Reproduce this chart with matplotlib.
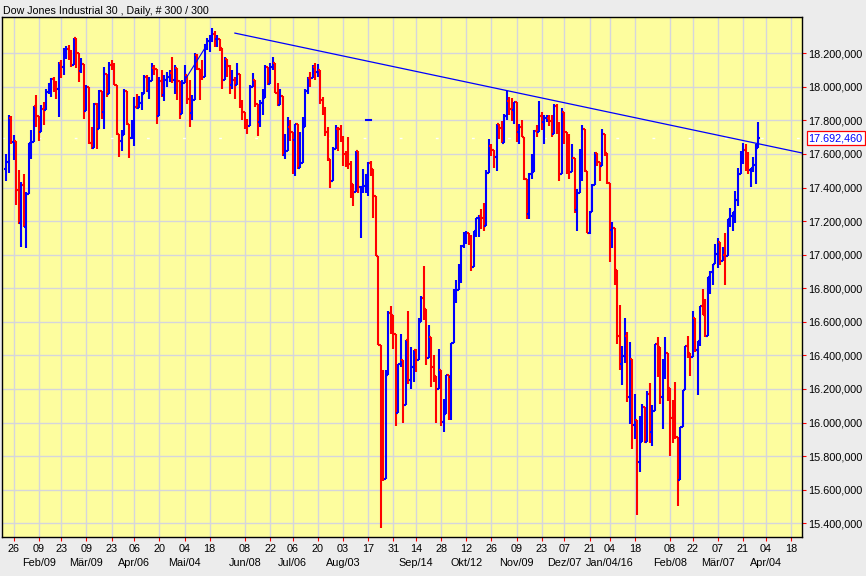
import numpy as np
import pandas as pd
import matplotlib
matplotlib.use("Agg")
import matplotlib.pyplot as plt
from matplotlib.collections import LineCollection
from matplotlib.transforms import blended_transform_factory

# NYSE-Feiertage im dargestellten Zeitraum
HOLIDAYS = [
    "2015-02-16", "2015-04-03", "2015-05-25", "2015-07-03", "2015-09-07",
    "2015-11-26", "2015-12-25", "2016-01-01", "2016-01-18", "2016-02-15",
    "2016-03-25",
]
FIRST_DAY = "2015-01-21"
LAST_DAY = "2016-03-30"

# Tageskurse (Open, High, Low, Close), je Monat eine Zeile
OPEN = [
    17511, 17554, 17814, 17673, 17679, 17387, 17191, 17417,
    17165, 17361, 17666, 17673, 17885, 17824, 17729, 17869, 17862, 17972, 18019, 18048, 18030, 17986, 18140, 18117, 18209, 18225, 18214,
    18133, 18289, 18203, 18097, 18136, 17857, 17996, 17663, 17635, 17895, 17749, 17977, 17849, 18076, 17959, 18128, 18116, 18011, 17719, 17678, 17713, 17976,
    17776, 17698, 17763, 17881, 17875, 17903, 17959, 18058, 17977, 18037, 18113, 18106, 17826, 18035, 17950, 18038, 18059, 18080, 18038, 18110, 18036,
    17841, 18024, 18070, 17928, 17842, 17924, 18191, 18105, 18068, 18060, 18252, 18273, 18299, 18312, 18285, 18286, 18232, 18042, 18163, 18126,
    18011, 18040, 18012, 18076, 17906, 17849, 17767, 17764, 18000, 18039, 17899, 17791, 17904, 17936, 18116, 18016, 18120, 18144, 17966, 17890, 17947, 17596,
    17620, 17758, 17730, 17684, 17777, 17515, 17549, 17760, 17978, 18054, 18050, 18120, 18086, 18100, 17919, 17851, 17732, 17569, 17441, 17630, 17751, 17746,
    17690, 17598, 17551, 17540, 17420, 17373, 17615, 17403, 17403, 17408, 17477, 17545, 17511, 17349, 16991, 16460, 15871, 15666, 16286, 16655, 16643,
    16528, 16058, 16351, 16375, 16102, 16493, 16254, 16330, 16433, 16371, 16600, 16740, 16675, 16385, 16510, 16330, 16280, 16201, 16315, 16002, 16049,
    16285, 16272, 16472, 16776, 16790, 16912, 17051, 17084, 17132, 17082, 16925, 17142, 17216, 17231, 17217, 17169, 17489, 17647, 17623, 17581, 17780, 17756,
    17664, 17829, 17918, 17868, 17863, 17910, 17730, 17758, 17702, 17448, 17245, 17483, 17490, 17737, 17733, 17824, 17793, 17812, 17813, 17798,
    17720, 17888, 17730, 17478, 17848, 17731, 17568, 17492, 17575, 17265, 17369, 17525, 17749, 17496, 17129, 17252, 17417, 17603, 17552, 17528, 17721, 17604,
    17425, 17149, 17159, 16907, 16514, 16346, 16399, 16516, 16151, 16379, 15988, 16016, 15767, 15883, 16094, 15885, 16167, 15944, 16070,
    16466, 16449, 16154, 16337, 16417, 16205, 16027, 16014, 15915, 15660, 15974, 16196, 16454, 16413, 16392, 16621, 16432, 16485, 16697, 16640,
    16517, 16865, 16899, 16944, 17007, 17074, 16964, 17000, 16995, 17213, 17229, 17252, 17326, 17481, 17602, 17624, 17583, 17503, 17516, 17535, 17633,
]
HIGH = [
    17600, 17830, 17828, 17715, 17679, 17506, 17434, 17480,
    17375, 17667, 17740, 17885, 17952, 17824, 17890, 17910, 17990, 18023, 18055, 18060, 18032, 18150, 18160, 18230, 18244, 18248, 18220,
    18290, 18289, 18203, 18170, 18136, 18012, 17996, 17760, 17905, 17905, 17980, 17977, 18120, 18076, 18150, 18160, 18140, 18011, 17720, 17740, 17990, 17976,
    17776, 17805, 17940, 17955, 17945, 17970, 18070, 18070, 18060, 18140, 18130, 18106, 18060, 18100, 18070, 18090, 18100, 18175, 18130, 18110, 18036,
    18040, 18130, 18070, 18040, 17950, 18200, 18195, 18105, 18160, 18255, 18288, 18310, 18351, 18330, 18310, 18286, 18232, 18180, 18163, 18130,
    18100, 18060, 18140, 18076, 17920, 17850, 17810, 18010, 18085, 18039, 17899, 17920, 17990, 18130, 18120, 18140, 18175, 18144, 18020, 17990, 17947, 17720,
    17820, 17800, 17730, 17780, 17777, 17730, 17820, 17990, 18060, 18090, 18130, 18140, 18137, 18100, 17940, 17880, 17760, 17570, 17640, 17770, 17760, 17770,
    17710, 17620, 17700, 17560, 17420, 17620, 17615, 17403, 17510, 17480, 17550, 17560, 17511, 17349, 16991, 16460, 16312, 16312, 16666, 16697, 16643,
    16528, 16351, 16528, 16375, 16492, 16665, 16450, 16434, 16440, 16622, 16755, 16933, 16675, 16580, 16510, 16400, 16280, 16440, 16315, 16140, 16285,
    16285, 16472, 16794, 16850, 16944, 17060, 17136, 17140, 17132, 17116, 17142, 17219, 17234, 17271, 17309, 17505, 17688, 17660, 17623, 17780, 17780, 17799,
    17840, 17977, 17940, 17935, 17910, 17910, 17780, 17800, 17702, 17448, 17485, 17600, 17740, 17770, 17915, 17850, 17830, 17830, 17830, 17830,
    17895, 17900, 17790, 17875, 17848, 17731, 17720, 17660, 17575, 17390, 17630, 17770, 17750, 17496, 17260, 17420, 17610, 17606, 17552, 17750, 17721, 17604,
    17425, 17195, 17159, 16907, 16700, 16453, 16624, 16540, 16482, 16379, 16171, 16016, 16038, 16108, 16094, 16185, 16235, 16102, 16466,
    16510, 16449, 16381, 16511, 16417, 16205, 16136, 16239, 15915, 15974, 16196, 16454, 16514, 16413, 16664, 16621, 16485, 16697, 16795, 16736,
    16865, 16900, 16944, 17063, 17099, 17074, 17048, 17130, 17214, 17277, 17252, 17379, 17514, 17620, 17665, 17660, 17611, 17516, 17580, 17661, 17790,
]
LOW = [
    17440, 17485, 17660, 17565, 17293, 17180, 17046, 17164,
    17037, 17361, 17572, 17673, 17763, 17680, 17729, 17775, 17862, 17955, 17940, 17967, 17925, 17820, 18055, 18070, 18165, 18160, 18120,
    18133, 18110, 18030, 18085, 17810, 17857, 17660, 17630, 17635, 17630, 17749, 17810, 17750, 17940, 17959, 18100, 18010, 17715, 17580, 17620, 17713, 17770,
    17575, 17690, 17650, 17870, 17875, 17860, 17955, 17970, 17930, 18037, 18070, 17780, 17826, 17940, 17915, 18000, 18030, 18020, 17960, 17920, 17810,
    17841, 18024, 17900, 17760, 17800, 17924, 18100, 17920, 18040, 18060, 18220, 18210, 18270, 18240, 18240, 18215, 17990, 18042, 18060, 17960,
    17990, 17930, 18012, 17875, 17800, 17750, 17720, 17764, 18000, 17880, 17710, 17760, 17830, 17936, 18010, 18016, 18100, 17965, 17885, 17890, 17590, 17570,
    17620, 17680, 17480, 17470, 17510, 17515, 17549, 17760, 17960, 18000, 18050, 18040, 18060, 17900, 17830, 17710, 17560, 17400, 17441, 17630, 17620, 17670,
    17530, 17520, 17510, 17340, 17290, 17373, 17370, 17100, 17370, 17370, 17350, 17470, 17220, 16990, 16459, 15370, 15652, 15666, 16286, 16530, 16440,
    15980, 16058, 16330, 16000, 16102, 16230, 16200, 16244, 16300, 16371, 16600, 16610, 16340, 16385, 16210, 16240, 16000, 16201, 15981, 15942, 16049,
    16013, 16014, 16472, 16710, 16790, 16834, 17037, 17061, 17059, 16903, 16925, 17108, 17104, 17154, 17140, 17169, 17489, 17590, 17514, 17500, 17689, 17663,
    17664, 17800, 17830, 17795, 17780, 17670, 17660, 17700, 17447, 17210, 17210, 17450, 17490, 17700, 17733, 17740, 17660, 17790, 17765, 17700,
    17720, 17717, 17440, 17478, 17660, 17480, 17450, 17492, 17250, 17140, 17369, 17440, 17490, 17128, 17124, 17252, 17417, 17530, 17440, 17528, 17590, 17420,
    16957, 17038, 16817, 16465, 16315, 16224, 16355, 16124, 15990, 15842, 15900, 15451, 15704, 15883, 15880, 15885, 15878, 15863, 16070,
    16269, 16108, 15960, 16258, 16129, 15803, 15881, 15899, 15503, 15660, 15974, 16196, 16387, 16278, 16392, 16418, 16165, 16458, 16638, 16511,
    16517, 16766, 16821, 16944, 16921, 16936, 16964, 16821, 16995, 17163, 17140, 17191, 17289, 17481, 17540, 17500, 17480, 17402, 17490, 17420, 17633,
]
CLOSE = [
    17554, 17814, 17673, 17679, 17387, 17191, 17417, 17165,
    17361, 17666, 17673, 17885, 17824, 17729, 17869, 17862, 17972, 18019, 18048, 18030, 17986, 18140, 18117, 18209, 18225, 18214, 18133,
    18289, 18203, 18097, 18136, 17857, 17996, 17663, 17635, 17895, 17749, 17977, 17849, 18076, 17959, 18128, 18116, 18011, 17719, 17678, 17713, 17976, 17776,
    17698, 17763, 17881, 17875, 17903, 17959, 18058, 17977, 18037, 18113, 18106, 17826, 18035, 17950, 18038, 18059, 18080, 18038, 18110, 18036, 17841,
    18024, 18070, 17928, 17842, 17924, 18191, 18105, 18068, 18060, 18252, 18273, 18299, 18312, 18285, 18286, 18232, 18042, 18163, 18126, 18011,
    18040, 18012, 18076, 17906, 17849, 17767, 17764, 18000, 18039, 17899, 17791, 17904, 17936, 18116, 18016, 18120, 18144, 17966, 17890, 17947, 17596, 17620,
    17758, 17730, 17684, 17777, 17515, 17549, 17760, 17978, 18054, 18050, 18120, 18086, 18100, 17919, 17851, 17732, 17569, 17441, 17630, 17751, 17746, 17690,
    17598, 17551, 17540, 17420, 17373, 17615, 17403, 17403, 17408, 17477, 17545, 17511, 17349, 16991, 16460, 15871, 15666, 16286, 16655, 16643, 16528,
    16058, 16351, 16375, 16102, 16493, 16254, 16330, 16433, 16371, 16600, 16740, 16675, 16385, 16510, 16330, 16280, 16201, 16315, 16002, 16049, 16285,
    16272, 16472, 16776, 16790, 16912, 17051, 17084, 17132, 17082, 16925, 17142, 17216, 17231, 17217, 17169, 17489, 17647, 17623, 17581, 17780, 17756, 17664,
    17829, 17918, 17868, 17863, 17910, 17730, 17758, 17702, 17448, 17245, 17483, 17490, 17737, 17733, 17824, 17793, 17812, 17813, 17798, 17720,
    17888, 17730, 17478, 17848, 17731, 17568, 17492, 17575, 17265, 17369, 17525, 17749, 17496, 17129, 17252, 17417, 17603, 17552, 17528, 17721, 17604, 17425,
    17149, 17159, 16907, 16514, 16346, 16399, 16516, 16151, 16379, 15988, 16016, 15767, 15883, 16094, 15885, 16167, 15944, 16070, 16466,
    16449, 16154, 16337, 16417, 16205, 16027, 16014, 15915, 15660, 15974, 16196, 16454, 16413, 16392, 16621, 16432, 16485, 16697, 16640, 16517,
    16865, 16899, 16944, 17007, 17074, 16964, 17000, 16995, 17213, 17229, 17252, 17326, 17481, 17602, 17624, 17583, 17503, 17516, 17535, 17633, 17692.46,
]

TICK_DATES = [
    "2015-01-26", "2015-02-09", "2015-02-23", "2015-03-09", "2015-03-23",
    "2015-04-06", "2015-04-20", "2015-05-04", "2015-05-18", "2015-06-08",
    "2015-06-22", "2015-07-06", "2015-07-20", "2015-08-03", "2015-08-17",
    "2015-08-31", "2015-09-14", "2015-09-28", "2015-10-12", "2015-10-26",
    "2015-11-09", "2015-11-23", "2015-12-07", "2015-12-21", "2016-01-04",
    "2016-01-18", "2016-02-08", "2016-02-22", "2016-03-07", "2016-03-21",
    "2016-04-04", "2016-04-18",
]
MONTHS_DE = ["Jan", "Feb", "Mär", "Apr", "Mai", "Jun", "Jul", "Aug", "Sep", "Okt", "Nov", "Dez"]

# Gezeichnete Trendlinien (Datum, Kurs)
TREND_LONG = (["2015-06-02", "2016-03-31"], [18320, 17658])
TREND_SHORT = (["2015-05-04", "2015-05-14"], [18038, 18229])
STRAY_TICK = ("2015-08-17", 17800)

Y_TICKS = list(range(15400, 18201, 200))

BG_FIG = "#ececec"
BG_AX = "#fdfd9e"
GRID = "#d5d5dc"
UP = "#0000ff"
DOWN = "#ff0000"
FONT = "Liberation Sans"
FS = 7.8


def slot(dates):
    d = np.asarray(pd.to_datetime(dates).values.astype("datetime64[D]"))
    return np.busday_count(np.datetime64(FIRST_DAY), d, holidays=HOLIDAYS)


def de_price(v):
    s = f"{v:,.3f}"
    return s.replace(",", "#").replace(".", ",").replace("#", ".")


days = pd.bdate_range(FIRST_DAY, LAST_DAY, freq="C", holidays=HOLIDAYS)
x = slot(days)

o = np.array(OPEN, float)
h = np.array(HIGH, float)
l = np.array(LOW, float)
c = np.array(CLOSE, float)
hi = np.maximum(h, np.maximum(o, c))
lo = np.minimum(l, np.minimum(o, c))

fig = plt.figure(figsize=(8.66, 5.76), dpi=100, facecolor=BG_FIG)
W, H = 866, 576
ax = fig.add_axes([1.5 / W, (H - 537) / H, 800.5 / W, 520 / H])
ax.set_facecolor(BG_AX)

TICK = 0.8
segs, cols = [], []
for xi, oi, hii, loi, ci in zip(x, o, hi, lo, c):
    col = UP if ci >= oi else DOWN
    segs += [[(xi, loi), (xi, hii)], [(xi - TICK, oi), (xi, oi)], [(xi, ci), (xi + TICK, ci)]]
    cols += [col, col, col]
ax.add_collection(LineCollection(segs, colors=cols, linewidths=1.5, zorder=3))

x_left = (1.5 - 6) / 2.5155
x_right = (802 - 6) / 2.5155
ax.set_xlim(x_left, x_right)
ax.set_ylim(15318, 18416)

# letzte Kurslinie (weiß gestrichelt)
ax.axhline(c[-1], color="white", lw=1.0, ls=(0, (2, 24)), zorder=2)

# Trendlinien
tx = slot(TREND_LONG[0])
ty = np.array(TREND_LONG[1], float)
k = (ty[1] - ty[0]) / (tx[1] - tx[0])
ax.plot([tx[0], x_right], [ty[0], ty[0] + k * (x_right - tx[0])], color=UP, lw=0.9, zorder=4)
sx = slot(TREND_SHORT[0])
ax.plot(sx, TREND_SHORT[1], color=UP, lw=0.8, zorder=4)
px = slot([STRAY_TICK[0]])[0]
ax.plot([px - 1, px + 1], [STRAY_TICK[1]] * 2, color=UP, lw=1.5, zorder=4)

# Achsen
tick_x = slot(TICK_DATES)
ax.set_xticks(tick_x)
ax.set_xticklabels([d[-2:] for d in TICK_DATES], fontsize=FS, family=FONT)
ax.set_yticks(Y_TICKS)
ax.set_yticklabels([de_price(v) for v in Y_TICKS], fontsize=FS, family=FONT)
ax.yaxis.tick_right()
ax.tick_params(axis="both", colors=DOWN, labelcolor="black", length=3.0, width=0.8)
ax.tick_params(axis="x", pad=2.2)
ax.tick_params(axis="y", pad=1.2)
ax.grid(True, color=GRID, lw=1.0, zorder=0)
ax.set_axisbelow(True)
for sp in ax.spines.values():
    sp.set_color("black")
    sp.set_linewidth(1.0)

# Monatsbeschriftung am ersten Tick jedes Monats
trans = blended_transform_factory(ax.transData, ax.transAxes)
prev = None
for i, (d, xi) in enumerate(zip(TICK_DATES, tick_x)):
    ts = pd.Timestamp(d)
    key = (ts.year, ts.month)
    if i > 0 and key != prev:
        label = f"{MONTHS_DE[ts.month - 1]}/{ts.day:02d}"
        if ts.month == 1:
            label += f"/{ts.year % 100:02d}"
        ax.text(xi, -26 / 520, label, transform=trans, ha="center", va="center",
                fontsize=FS, family=FONT, clip_on=False)
    prev = key

# aktueller Kurs rechts
ytrans = blended_transform_factory(ax.transAxes, ax.transData)
ax.text(1 + 6.5 / 800.5, c[-1], de_price(c[-1]), transform=ytrans, ha="left", va="center",
        fontsize=FS, family=FONT, color=UP, zorder=10, clip_on=False,
        bbox=dict(boxstyle="square,pad=0.18", fc="white", ec=DOWN, lw=0.9))

fig.text(3 / W, 1 - 10.5 / H, "Dow Jones Industrial 30 , Daily, # 300 / 300",
         ha="left", va="center", fontsize=7.7, family=FONT)

fig.savefig("out.png", dpi=100, facecolor=BG_FIG)
print(len(days), len(o), len(h), len(l), len(c))
